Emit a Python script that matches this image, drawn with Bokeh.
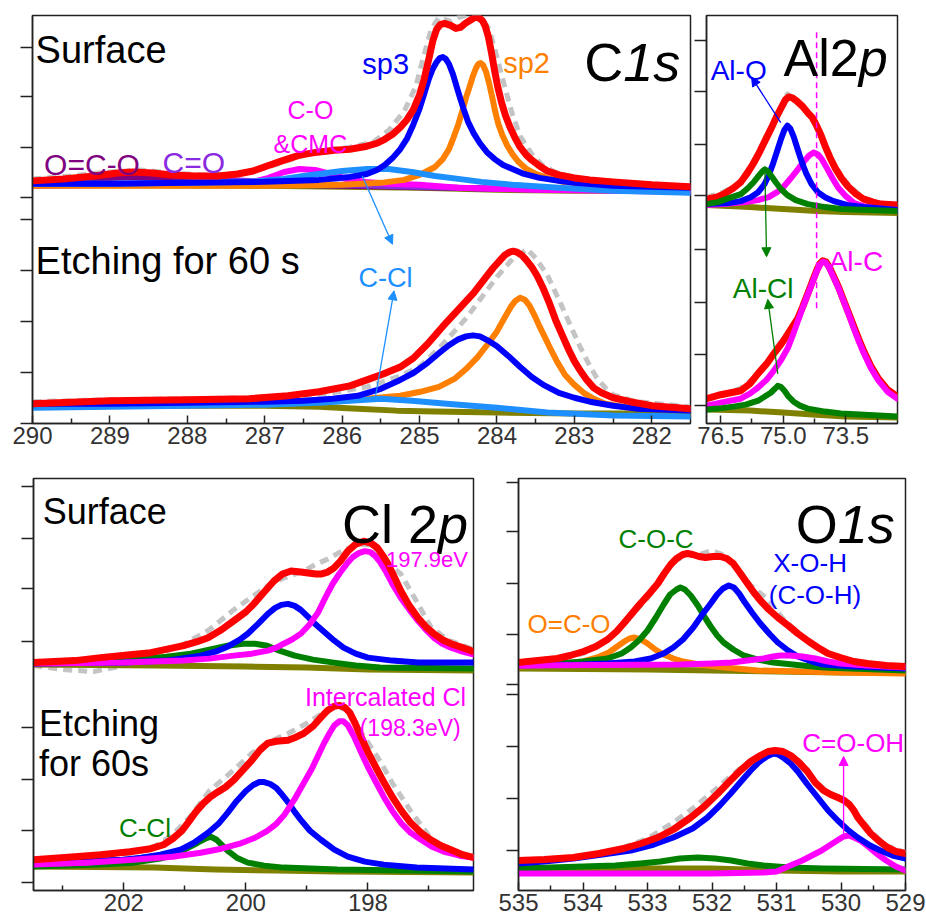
from bokeh.plotting import figure
from bokeh.models import Range1d, FixedTicker, PrintfTickFormatter, Label, Arrow, NormalHead
from bokeh.layouts import column, row
from bokeh.embed import file_html
from bokeh.resources import INLINE

# ---------------- data (binding energy in eV, intensity in a.u.) ----------------
# C 1s, surface
c1s_s_raw = [(290.0,247),(289.5,250),(289.0,254),(288.6,256),(288.2,253),(287.8,251),(287.4,252),(287.0,258),(286.6,268),(286.3,275),(285.9,279),(285.6,284),(285.4,296),(285.2,315),(285.05,340),(284.95,370),(284.85,398),(284.75,410),(284.6,406),(284.5,410),(284.4,412),(284.3,413),(284.2,410),(284.1,398),(284.0,370),(283.9,340),(283.8,312),(283.7,290),(283.55,272),(283.4,260),(283.2,252),(282.9,247),(282.5,243),(282.0,240),(281.51,238)]
c1s_s_fit = [(290.0,245),(289.6,247),(289.2,250),(288.9,253),(288.7,254),(288.45,253),(288.2,251),(287.9,250),(287.6,250),(287.35,252),(287.15,255),(286.97,260),(286.75,266),(286.55,271),(286.32,274),(286.1,276),(285.9,277),(285.68,280),(285.55,283),(285.45,287),(285.35,292),(285.25,299),(285.16,307),(285.08,317),(285.0,332),(284.94,348),(284.88,368),(284.83,386),(284.78,398),(284.73,403),(284.67,404),(284.6,402),(284.53,399),(284.47,400),(284.41,404),(284.35,407),(284.29,410),(284.24,410),(284.19,407),(284.15,401),(284.11,390),(284.07,374),(284.03,356),(283.99,340),(283.94,324),(283.89,311),(283.83,299),(283.77,289),(283.7,279),(283.62,271),(283.55,266),(283.45,260),(283.35,255),(283.2,251),(283.0,248),(282.8,246),(282.5,244),(282.0,241),(281.51,239)]
c1s_s_sp3 = [(290.0,242),(289.0,242),(288.0,243),(287.0,244),(286.3,246),(285.9,249),(285.68,252),(285.55,256),(285.45,261),(285.35,268),(285.25,277),(285.16,288),(285.08,302),(285.0,318),(284.94,333),(284.88,348),(284.83,358),(284.78,365),(284.74,369),(284.7,370),(284.66,368),(284.62,363),(284.57,353),(284.52,340),(284.47,327),(284.42,315),(284.37,304),(284.3,293),(284.22,283),(284.13,274),(284.03,267),(283.92,261),(283.8,257),(283.65,252),(283.45,248),(283.2,245),(283.0,243),(282.5,240),(281.51,238)]
c1s_s_sp2 = [(290.0,240),(289.0,240),(288.0,240),(287.0,240),(286.0,241),(285.5,243),(285.2,246),(285.0,251),(284.9,255),(284.8,259),(284.7,267),(284.62,277),(284.56,289),(284.5,302),(284.45,315),(284.4,329),(284.35,341),(284.31,351),(284.27,359),(284.24,363),(284.21,364),(284.18,362),(284.14,355),(284.1,343),(284.06,329),(284.02,314),(283.98,302),(283.93,291),(283.87,281),(283.8,272),(283.72,264),(283.62,257),(283.5,252),(283.35,248),(283.15,244),(282.9,242),(282.5,240),(281.51,238)]
c1s_s_ccl = [(290.0,242),(289.0,242),(288.0,243),(287.2,244),(286.76,247),(286.5,250),(286.3,252),(286.0,255),(285.68,257),(285.4,257),(285.1,254),(284.8,250),(284.5,247),(284.2,244),(283.8,241),(283.2,238),(282.5,235),(281.51,233)]
c1s_s_co = [(290.0,241),(288.0,241),(287.4,242),(287.15,244),(286.95,248),(286.75,254),(286.55,257),(286.35,256),(286.15,252),(285.95,247),(285.7,244),(285.4,242),(285.0,241),(284.5,238),(283.5,236),(282.5,235),(281.51,234)]
c1s_s_c_o = [(290.0,240),(288.5,241),(288.1,242),(287.8,245),(287.5,246),(287.2,245),(286.9,243),(286.5,242),(285.5,240),(284.0,237),(281.51,235)]
c1s_s_oco = [(290.0,242),(289.6,244),(289.3,247),(289.0,248),(288.7,249),(288.4,248),(288.1,246),(287.8,244),(287.4,242),(286.0,240),(284.0,237),(281.51,235)]
c1s_s_bg = [(290.0,241),(287.0,240),(286.0,239),(285.0,238),(284.0,236),(283.0,235),(281.51,235)]
# C 1s, etching 60 s
c1s_e_raw = [(290.0,22),(289.0,24),(288.0,25),(287.0,26),(286.5,28),(286.12,31),(285.68,37),(285.25,48),(284.99,58),(284.7,80),(284.39,107),(284.22,125),(284.0,148),(283.8,166),(283.61,176),(283.5,167),(283.35,150),(283.2,125),(283.08,104),(282.93,78),(282.8,58),(282.71,46),(282.6,36),(282.5,29),(282.2,22),(281.51,17)]
c1s_e_fit = [(290.0,20),(289.0,23),(288.0,24),(287.2,25),(286.7,28),(286.3,32),(285.9,38),(285.68,44),(285.47,50),(285.25,57),(285.08,66),(284.9,80),(284.7,98),(284.5,115),(284.3,132),(284.15,147),(284.05,157),(283.97,164),(283.9,170),(283.84,173),(283.79,174),(283.74,173),(283.68,170),(283.62,165),(283.55,158),(283.48,149),(283.4,136),(283.32,121),(283.24,104),(283.15,88),(283.07,74),(283.0,63),(282.93,54),(282.84,44),(282.75,36),(282.65,31),(282.5,26),(282.28,22),(282.0,18),(281.51,15)]
c1s_e_sp3 = [(290.0,20),(289.0,20),(288.0,21),(287.0,22),(286.5,23),(286.12,25),(285.8,28),(285.5,35),(285.25,44),(285.08,51),(284.9,61),(284.75,71),(284.62,79),(284.5,85),(284.4,88),(284.31,89),(284.22,88),(284.12,84),(284.0,78),(283.85,68),(283.7,57),(283.55,47),(283.4,39),(283.2,31),(283.0,26),(282.8,22),(282.5,18),(282.2,15),(281.51,13)]
c1s_e_sp2 = [(290.0,20),(288.0,20),(287.0,21),(286.3,22),(285.68,25),(285.25,28),(284.99,32),(284.75,37),(284.55,45),(284.4,55),(284.25,67),(284.12,80),(284.0,93),(283.9,107),(283.82,118),(283.76,124),(283.7,127),(283.64,125),(283.58,119),(283.52,110),(283.45,98),(283.38,87),(283.3,74),(283.22,62),(283.12,49),(283.0,39),(282.88,31),(282.75,25),(282.6,20),(282.3,16),(281.51,14)]
c1s_e_ccl = [(290.0,16),(289.0,17),(288.0,18),(287.0,19),(286.3,21),(285.9,23),(285.5,25),(285.1,23),(284.65,20),(284.0,16),(283.35,11),(282.5,8),(281.51,7)]
c1s_e_bg = [(290.0,18),(287.0,18),(286.3,17),(285.8,15),(285.3,13),(284.8,12),(284.0,11),(283.0,10),(281.51,10)]

# Al 2p, surface
al_s_raw = [(76.84,228),(76.5,232),(76.1,240),(75.9,252),(75.61,272),(75.35,292),(75.1,314),(74.9,332),(74.7,326),(74.5,318),(74.25,305),(74.05,285),(73.8,262),(73.5,243),(73.1,228),(72.7,222),(72.26,220)]
al_s_fit = [(76.84,226),(76.6,228),(76.43,231),(76.2,237),(76.02,243),(75.85,253),(75.7,263),(75.55,275),(75.4,288),(75.28,298),(75.15,310),(75.05,318),(74.95,326),(74.87,329),(74.78,328),(74.68,325),(74.55,320),(74.41,313),(74.3,308),(74.2,300),(74.1,291),(74.0,280),(73.88,268),(73.75,257),(73.6,247),(73.45,239),(73.25,231),(73.07,226),(72.85,223),(72.66,221),(72.26,220)]
al_s_alo = [(76.84,221),(76.3,222),(76.02,224),(75.78,228),(75.6,233),(75.45,241),(75.35,250),(75.25,261),(75.15,274),(75.05,287),(74.97,296),(74.9,300),(74.83,297),(74.75,289),(74.66,277),(74.56,264),(74.45,252),(74.32,241),(74.17,233),(74.0,228),(73.79,224),(73.45,220),(73.07,218),(72.26,215)]
al_s_alcl = [(76.84,221),(76.57,223),(76.3,227),(76.02,231),(75.85,237),(75.71,243),(75.6,249),(75.5,254),(75.44,256),(75.37,254),(75.28,249),(75.18,243),(75.05,236),(74.9,230),(74.7,225),(74.41,221),(74.0,218),(73.62,216),(72.26,214)]
al_s_alc = [(76.84,220),(76.43,221),(75.9,223),(75.61,225),(75.35,228),(75.15,233),(74.98,239),(74.82,247),(74.65,256),(74.5,264),(74.38,270),(74.27,273),(74.17,271),(74.07,266),(73.95,257),(73.82,247),(73.69,238),(73.5,229),(73.3,222),(73.0,218),(72.6,216),(72.26,215)]
al_s_bg = [(76.84,220),(75.8,218),(75.0,216),(74.2,214),(73.5,213),(72.26,212)]
# Al 2p, etching
al_e_raw = [(76.84,24),(76.4,29),(76.0,36),(75.7,46),(75.45,58),(75.2,74),(75.0,86),(74.8,96),(74.6,110),(74.4,135),(74.22,155),(74.1,163),(74.0,164),(73.88,159),(73.72,143),(73.55,124),(73.35,102),(73.15,80),(72.9,58),(72.6,38),(72.26,27)]
al_e_fit = [(76.84,25),(76.5,29),(76.02,33),(75.8,40),(75.61,50),(75.4,60),(75.23,70),(75.05,80),(74.89,90),(74.77,98),(74.65,106),(74.53,118),(74.41,131),(74.3,143),(74.2,154),(74.12,161),(74.05,164),(73.98,163),(73.9,158),(73.79,148),(73.67,137),(73.55,124),(73.43,111),(73.31,98),(73.19,85),(73.07,73),(72.9,58),(72.73,46),(72.5,34),(72.26,27)]
al_e_alc = [(76.84,18),(76.5,21),(76.02,25),(75.8,30),(75.61,36),(75.4,44),(75.23,53),(75.05,64),(74.89,76),(74.77,89),(74.65,103),(74.53,117),(74.41,130),(74.3,142),(74.2,153),(74.12,160),(74.05,163),(73.98,162),(73.9,157),(73.79,147),(73.67,136),(73.55,123),(73.43,110),(73.31,96),(73.19,83),(73.07,71),(72.9,56),(72.73,44),(72.5,32),(72.26,25)]
al_e_alcl = [(76.84,14),(76.57,15),(76.2,17),(75.9,19),(75.6,23),(75.45,27),(75.3,31),(75.2,35),(75.13,38),(75.06,37),(74.97,33),(74.87,27),(74.75,22),(74.6,18),(74.41,15),(74.0,12),(73.62,10),(72.26,7)]
al_e_bg = [(76.84,14),(75.8,13),(75.0,11),(74.3,9),(73.5,7),(72.26,6)]
al_alc_mark = [74.2]          # Al-C position (dashed guide)
al_alc_mark_span = [116, 396]

# Cl 2p, surface
cl_s_raw = [(203.48,226),(203.0,222),(202.5,220),(202.0,226),(201.5,236),(201.0,248),(200.6,262),(200.2,282),(199.9,295),(199.6,308),(199.38,314),(199.05,321),(198.85,328),(198.66,333),(198.4,342),(198.15,348),(197.95,347),(197.8,338),(197.6,325),(197.46,318),(197.18,288),(196.97,265),(196.7,252),(196.26,242)]
cl_s_fit = [(203.48,229),(202.8,231),(202.38,234),(201.9,237),(201.56,239),(201.25,243),(201.02,246),(200.8,250),(200.62,254),(200.4,262),(200.2,271),(200.0,280),(199.87,288),(199.7,300),(199.54,311),(199.4,318),(199.26,321),(199.1,320),(198.98,319),(198.85,318),(198.77,318),(198.66,320),(198.56,324),(198.45,331),(198.33,341),(198.2,348),(198.07,351),(197.95,349),(197.84,344),(197.75,336),(197.67,328),(197.56,314),(197.46,301),(197.32,286),(197.18,274),(197.05,265),(196.92,258),(196.78,252),(196.64,248),(196.45,244),(196.26,240)]
cl_s_inter = [(203.48,228),(202.0,229),(201.02,231),(200.6,233),(200.2,236),(199.9,238),(199.64,241),(199.5,244),(199.38,248),(199.25,252),(199.1,258),(198.96,267),(198.82,279),(198.7,294),(198.58,308),(198.46,319),(198.35,328),(198.25,335),(198.15,339),(198.05,341),(197.96,340),(197.88,336),(197.8,330),(197.7,320),(197.6,308),(197.46,294),(197.32,282),(197.18,271),(197.05,262),(196.92,254),(196.78,248),(196.64,244),(196.45,240),(196.26,237)]
cl_s_blue = [(203.48,228),(202.0,229),(201.3,231),(201.07,233),(200.74,236),(200.5,240),(200.3,245),(200.1,252),(199.97,258),(199.8,268),(199.64,278),(199.52,284),(199.42,287),(199.31,288),(199.2,286),(199.1,282),(198.98,275),(198.85,267),(198.7,259),(198.55,251),(198.4,244),(198.2,238),(198.0,234),(197.6,231),(197.18,229),(196.26,229)]
cl_s_ccl = [(203.48,228),(202.5,230),(201.8,232),(201.3,235),(200.9,238),(200.6,242),(200.3,246),(200.05,248),(199.85,248),(199.65,246),(199.45,241),(199.2,236),(198.9,232),(198.56,229),(198.2,226),(197.8,224),(196.26,223)]
cl_s_bg = [(203.48,227),(201.5,226),(200.0,225),(199.0,224),(198.0,222),(196.26,221)]
# Cl 2p, etching
cl_e_raw = [(203.48,28),(203.0,24),(202.5,26),(202.0,35),(201.5,44),(201.2,56),(200.9,75),(200.6,100),(200.2,121),(199.9,138),(199.6,150),(199.3,158),(199.0,168),(198.75,178),(198.5,185),(198.3,180),(198.1,158),(197.8,130),(197.6,108),(197.3,80),(197.0,55),(196.75,38),(196.5,36),(196.26,34)]
cl_e_fit = [(203.48,31),(202.8,34),(202.38,36),(201.9,39),(201.56,42),(201.35,46),(201.2,52),(201.05,60),(200.95,68),(200.82,79),(200.69,88),(200.58,94),(200.46,99),(200.33,104),(200.2,111),(200.05,121),(199.9,131),(199.77,141),(199.64,148),(199.5,150),(199.31,151),(199.18,154),(199.05,158),(198.9,165),(198.77,174),(198.66,181),(198.56,185),(198.46,186),(198.38,184),(198.3,179),(198.21,168),(198.11,154),(198.0,139),(197.88,125),(197.75,110),(197.6,94),(197.45,80),(197.3,68),(197.13,58),(196.97,51),(196.8,45),(196.64,41),(196.45,36),(196.26,33)]
cl_e_inter = [(203.48,26),(202.6,28),(201.84,31),(201.2,34),(200.74,38),(200.4,42),(200.1,47),(199.85,53),(199.65,60),(199.5,67),(199.37,76),(199.21,91),(199.07,106),(198.93,121),(198.82,135),(198.72,148),(198.63,158),(198.55,166),(198.47,170),(198.4,170),(198.33,166),(198.23,155),(198.12,140),(198.0,124),(197.87,109),(197.74,94),(197.6,80),(197.46,68),(197.3,58),(197.13,51),(196.95,44),(196.75,39),(196.5,35),(196.26,33)]
cl_e_blue = [(203.48,28),(202.5,30),(202.0,31),(201.72,33),(201.4,36),(201.07,41),(200.85,48),(200.62,58),(200.45,67),(200.3,78),(200.15,90),(200.0,100),(199.88,106),(199.78,109),(199.7,109),(199.6,107),(199.5,103),(199.43,98),(199.3,88),(199.2,79),(199.1,71),(198.95,60),(198.77,51),(198.55,41),(198.33,34),(198.05,29),(197.74,26),(197.2,23),(196.26,21)]
cl_e_ccl = [(203.48,24),(202.4,26),(201.84,28),(201.4,32),(201.18,36),(200.98,42),(200.79,48),(200.67,52),(200.57,54),(200.48,51),(200.4,46),(200.3,40),(200.15,33),(199.97,28),(199.7,25),(199.38,23),(198.5,21),(196.26,19)]
cl_e_bg = [(203.48,24),(201.5,23),(200.5,21),(199.5,20),(198.5,19),(196.26,18)]

# O 1s, surface
o_s_raw = [(535.0,227),(534.5,230),(534.0,237),(533.6,251),(533.3,272),(533.0,292),(532.8,312),(532.6,328),(532.4,336),(532.2,336),(532.0,340),(531.8,335),(531.6,322),(531.4,305),(531.15,292),(530.9,272),(530.6,254),(530.3,240),(530.0,232),(529.5,226),(529.0,224)]
o_s_fit = [(535.0,228),(534.7,230),(534.4,232),(534.2,235),(533.99,239),(533.8,244),(533.62,251),(533.48,259),(533.37,267),(533.24,277),(533.11,287),(532.97,297),(532.84,307),(532.74,317),(532.64,326),(532.55,332),(532.45,336),(532.38,337),(532.3,336),(532.2,334),(532.1,333),(531.98,334),(531.87,334),(531.77,332),(531.67,327),(531.57,318),(531.45,307),(531.35,298),(531.25,290),(531.12,281),(530.98,273),(530.82,265),(530.67,257),(530.5,249),(530.36,243),(530.2,237),(530.01,233),(529.8,229),(529.59,227),(529.3,225),(529.0,224)]
o_s_oco = [(535.0,224),(534.4,226),(534.0,229),(533.78,233),(533.6,238),(533.47,244),(533.36,249),(533.28,252),(533.2,253),(533.1,251),(533.0,247),(532.88,241),(532.75,236),(532.6,232),(532.45,229),(532.2,226),(531.8,223),(531.29,220),(530.0,218),(529.0,217)]
o_s_coc = [(535.0,226),(534.4,227),(534.0,229),(533.62,232),(533.4,237),(533.26,243),(533.12,251),(533.0,260),(532.87,273),(532.75,286),(532.65,296),(532.55,301),(532.49,303),(532.42,301),(532.33,295),(532.22,285),(532.12,274),(532.02,264),(531.92,255),(531.82,248),(531.67,241),(531.51,235),(531.3,231),(531.05,228),(530.6,225),(530.27,223),(529.0,220)]
o_s_xoh = [(535.0,225),(534.0,226),(533.62,227),(533.2,229),(532.95,232),(532.75,237),(532.6,243),(532.45,251),(532.29,263),(532.15,276),(532.02,287),(531.92,296),(531.83,302),(531.74,305),(531.66,303),(531.58,297),(531.5,289),(531.38,278),(531.25,267),(531.1,256),(530.98,248),(530.82,240),(530.67,234),(530.45,229),(530.27,226),(529.8,224),(529.0,222)]
o_s_cooh = [(535.0,225),(532.5,226),(532.0,227),(531.7,228),(531.45,230),(531.2,232),(531.05,234),(530.94,235),(530.8,235),(530.6,234),(530.4,232),(530.2,229),(530.01,227),(529.6,225),(529.0,223)]
o_s_bg = [(535.0,222),(533.0,221),(532.0,220),(531.0,219),(530.0,218),(529.0,218)]
# O 1s, etching
o_e_raw = [(535.0,30),(534.2,33),(533.5,40),(533.0,52),(532.6,68),(532.3,82),(532.0,98),(531.7,115),(531.4,130),(531.1,141),(530.9,138),(530.7,127),(530.45,112),(530.2,98),(530.0,92),(529.8,80),(529.55,60),(529.3,45),(529.0,38)]
o_e_fit = [(535.0,30),(534.6,31),(534.15,33),(533.75,37),(533.37,42),(533.1,47),(532.84,53),(532.6,61),(532.33,73),(532.12,84),(531.91,97),(531.73,109),(531.56,120),(531.4,129),(531.25,135),(531.13,139),(531.02,140),(530.9,139),(530.78,135),(530.65,128),(530.52,119),(530.4,108),(530.27,100),(530.16,96),(530.05,93),(529.95,90),(529.87,86),(529.8,80),(529.74,73),(529.64,65),(529.54,57),(529.42,50),(529.28,43),(529.15,39),(529.0,37)]
o_e_xoh = [(535.0,27),(534.6,29),(534.15,32),(533.7,36),(533.26,40),(532.9,46),(532.6,53),(532.3,62),(532.07,73),(531.88,85),(531.71,97),(531.55,109),(531.4,120),(531.26,129),(531.15,134),(531.05,137),(530.97,136),(530.9,133),(530.78,127),(530.67,119),(530.52,106),(530.36,93),(530.2,80),(530.05,70),(529.9,61),(529.74,53),(529.55,45),(529.39,40),(529.2,35),(529.0,32)]
o_e_coc = [(535.0,22),(534.5,23),(534.0,24),(533.5,25),(533.11,27),(532.8,29),(532.5,32),(532.22,33),(531.95,32),(531.7,30),(531.45,27),(531.2,25),(530.8,23),(530.27,22),(529.0,21)]
o_e_cooh = [(535.0,17),(532.0,17),(531.2,18),(531.0,19),(530.89,22),(530.75,26),(530.6,30),(530.45,35),(530.3,40),(530.18,45),(530.06,50),(529.96,54),(529.88,55),(529.8,53),(529.7,50),(529.58,44),(529.45,37),(529.3,30),(529.15,24),(529.0,20)]
o_e_bg = [(535.0,20),(533.0,22),(532.0,22),(531.0,20),(530.0,19),(529.0,19)]

# tick values
c1s_xticks, c1s_xminor = [290, 289, 288, 287, 286, 285, 284, 283, 282], [289.5, 288.5, 287.5, 286.5, 285.5, 284.5, 283.5, 282.5]
al_xticks, al_xminor = [76.5, 75.0, 73.5], [75.75, 74.25, 72.75]
cl_xticks, cl_xminor = [202, 200, 198], [203, 201, 199, 197]
o_xticks, o_xminor = [535, 534, 533, 532, 531, 530, 529], [534.5, 533.5, 532.5, 531.5, 530.5, 529.5]
c1s_yticks = [0, 52, 103, 154, 206, 228, 279, 330, 380]
al_yticks = [18, 70, 122, 175, 230, 281, 334, 386]
cl_yticks = [8, 60, 112, 164, 250, 303, 354, 406]
o_yticks = [40, 92, 144, 196, 206, 256, 307, 359, 408]

# ---------------- styling ----------------
FONT = "Liberation Sans"
RED, BLUE, ORANGE, MAG, GREEN = "#ff0000", "#0000ff", "#ff7f00", "#ff00ff", "#008000"
LBLUE, OLIVE, PURPLE, VIOLET, GREY = "#1e8fff", "#808000", "#800080", "#8a2be2", "#c4c4c4"
W_RED, W_COMP, W_RAW = 7, 6, 5


def panel(w, h, xr, yr, borders, xt, xm, yt, fmt):
    lb, rb, tb, bb = borders
    p = figure(width=w, height=h, x_range=Range1d(*xr), y_range=Range1d(*yr),
               output_backend="svg", toolbar_location=None,
               min_border_left=lb, min_border_right=rb, min_border_top=tb, min_border_bottom=bb)
    p.xgrid.visible = False
    p.ygrid.visible = False
    p.outline_line_color = "#222222"
    p.outline_line_width = 1.5
    p.outline_line_alpha = 1.0
    xa = p.xaxis[0]
    xa.ticker = FixedTicker(ticks=xt, minor_ticks=xm)
    xa.formatter = PrintfTickFormatter(format=fmt)
    xa.major_tick_in, xa.major_tick_out = 8, 0
    xa.minor_tick_in, xa.minor_tick_out = 5, 0
    xa.major_label_text_font = FONT
    xa.major_label_text_font_size = "24px"
    xa.major_label_text_color = "#333333"
    xa.major_label_standoff = 3
    xa.axis_line_width = 1.5
    xa.axis_line_color = "#222222"
    xa.major_tick_line_color = "#222222"
    xa.minor_tick_line_color = "#222222"
    xa.major_tick_line_width = 1.5
    xa.minor_tick_line_width = 1.5
    ya = p.yaxis[0]
    ya.ticker = FixedTicker(ticks=yt, minor_ticks=[])
    ya.major_tick_in, ya.major_tick_out = 0, 12
    ya.minor_tick_in, ya.minor_tick_out = 0, 0
    ya.major_label_text_font_size = "1px"
    ya.major_label_text_color = None
    ya.major_label_standoff = 0
    ya.axis_line_width = 1.5
    ya.axis_line_color = "#222222"
    ya.major_tick_line_color = "#222222"
    ya.major_tick_line_width = 1.5
    return p


def curve(p, pts, color, width=W_COMP, dash=None):
    xs = [a for a, b in pts]
    ys = [b for a, b in pts]
    kw = dict(line_color=color, line_width=width, line_join="round", line_cap="round")
    if dash:
        kw["line_dash"] = dash
        kw["line_cap"] = "butt"
    p.line(xs, ys, **kw)


def label(p, x, y, text, size, color="black", align="left", style="normal"):
    p.add_layout(Label(x=x, y=y, text=text, text_font=FONT, text_font_size=size,
                       text_color=color, text_align=align, text_baseline="alphabetic",
                       text_font_style=style))


def arrow(p, x0, y0, x1, y1, color):
    p.add_layout(Arrow(end=NormalHead(size=9, fill_color=color, line_color=color),
                       x_start=x0, y_start=y0, x_end=x1, y_end=y1,
                       line_color=color, line_width=1.3))


# ---------------- C 1s ----------------
p1 = panel(692, 465, (290.0, 281.5), (0, 412), (32, 2, 15, 38), c1s_xticks, c1s_xminor, c1s_yticks, "%d")
for data in (c1s_s_raw, c1s_e_raw):
    curve(p1, data, GREY, W_RAW, "9 6")
for data, col in [(c1s_s_bg, OLIVE), (c1s_s_oco, PURPLE), (c1s_s_c_o, VIOLET), (c1s_s_co, MAG),
                  (c1s_s_sp2, ORANGE), (c1s_s_ccl, LBLUE), (c1s_s_sp3, BLUE),
                  (c1s_e_bg, OLIVE), (c1s_e_sp2, ORANGE), (c1s_e_ccl, LBLUE), (c1s_e_sp3, BLUE)]:
    curve(p1, data, col)
curve(p1, c1s_s_fit, RED, W_RED)
curve(p1, c1s_e_fit, RED, W_RED)
label(p1, 289.96, 377, "Surface", "38px")
label(p1, 289.96, 164, "Etching for 60 s", "38px")
label(p1, 282.37, 365, "C", "54px", align="right")
label(p1, 282.37, 365, "1s", "54px", style="italic")
label(p1, 285.74, 363, "sp3", "29px", BLUE)
label(p1, 283.92, 364, "sp2", "29px", ORANGE)
label(p1, 286.41, 317, "C-O", "25px", MAG, align="center")
label(p1, 286.41, 282, "&CMC", "25px", MAG, align="center")
label(p1, 289.85, 262, "O=C-O", "30px", PURPLE)
label(p1, 288.32, 264, "C=O", "30px", VIOLET)
label(p1, 285.79, 147, "C-Cl", "27px", LBLUE)
arrow(p1, 285.74, 250, 285.35, 181, LBLUE)
arrow(p1, 285.57, 27, 285.33, 134, LBLUE)

# ---------------- Al 2p ----------------
p2 = panel(234, 465, (76.84, 72.26), (0, 411), (14, 29, 12, 42), al_xticks, al_xminor, al_yticks, "%.1f")
curve(p2, al_s_raw, GREY, W_RAW, "9 6")
curve(p2, al_e_raw, GREY, W_RAW, "9 6")
curve(p2, al_s_bg, OLIVE)
curve(p2, al_e_bg, OLIVE)
curve(p2, al_s_fit, RED, W_RED)
curve(p2, al_e_fit, RED, W_RED)
for data, col in [(al_s_alc, MAG), (al_s_alo, BLUE), (al_s_alcl, GREEN),
                  (al_e_alc, MAG), (al_e_alcl, GREEN)]:
    curve(p2, data, col)
p2.segment(x0=al_alc_mark, y0=[al_alc_mark_span[0]], x1=al_alc_mark, y1=[al_alc_mark_span[1]],
           line_color=MAG, line_width=1.5, line_dash="6 4")
label(p2, 73.19, 368, "Al2", "52px", align="right")
label(p2, 73.19, 368, "p", "52px", style="italic")
label(p2, 76.74, 356, "Al-O", "28px", BLUE)
arrow(p2, 75.06, 303, 75.76, 349, BLUE)
label(p2, 76.21, 136, "Al-Cl", "28px", GREEN)
arrow(p2, 75.44, 256, 75.40, 168, GREEN)
arrow(p2, 75.13, 50, 75.37, 125, GREEN)
label(p2, 73.91, 163, "Al-C", "28px", MAG)

# ---------------- Cl 2p ----------------
p3 = panel(490, 459, (203.48, 196.27), (0, 414), (33, 17, 12, 33), cl_xticks, cl_xminor, cl_yticks, "%d")
curve(p3, cl_s_raw, GREY, W_RAW, "9 6")
curve(p3, cl_e_raw, GREY, W_RAW, "9 6")
for data, col in [(cl_s_bg, OLIVE), (cl_s_ccl, GREEN), (cl_s_blue, BLUE), (cl_s_inter, MAG),
                  (cl_e_bg, OLIVE), (cl_e_ccl, GREEN), (cl_e_blue, BLUE), (cl_e_inter, MAG)]:
    curve(p3, data, col)
curve(p3, cl_s_fit, RED, W_RED)
curve(p3, cl_e_fit, RED, W_RED)
label(p3, 203.33, 381, "Surface", "36px")
label(p3, 196.85, 368, "Cl 2", "54px", align="right")
label(p3, 196.85, 368, "p", "54px", style="italic")
label(p3, 196.36, 333, "197.9eV", "22px", MAG, align="right")
label(p3, 196.39, 194, "Intercalated Cl", "25px", MAG, align="right")
label(p3, 196.48, 163, "(198.3eV)", "23px", MAG, align="right")
label(p3, 203.39, 168, "Etching", "36px")
label(p3, 203.39, 128, "for 60s", "36px")
label(p3, 202.08, 63, "C-Cl", "26px", GREEN)

# ---------------- O 1s ----------------
p4 = panel(436, 459, (535.0, 529.0), (0, 412), (28, 21, 13, 34), o_xticks, o_xminor, o_yticks, "%d")
curve(p4, o_s_raw, GREY, W_RAW, "9 6")
curve(p4, o_e_raw, GREY, W_RAW, "9 6")
for data, col in [(o_s_bg, OLIVE), (o_s_oco, ORANGE), (o_s_coc, GREEN), (o_s_xoh, BLUE),
                  (o_e_bg, OLIVE), (o_e_coc, GREEN), (o_e_cooh, MAG), (o_e_xoh, BLUE)]:
    curve(p4, data, col)
curve(p4, o_s_cooh, MAG)
curve(p4, o_s_fit, RED, W_RED)
curve(p4, o_e_fit, RED, W_RED)
label(p4, 530.05, 367, "O", "54px", align="right")
label(p4, 530.05, 367, "1s", "54px", style="italic")
label(p4, 533.45, 352, "C-O-C", "26px", GREEN)
label(p4, 531.05, 328, "X-O-H", "26px", BLUE)
label(p4, 531.12, 296, "(C-O-H)", "26px", BLUE)
label(p4, 534.86, 267, "O=C-O", "26px", ORANGE)
label(p4, 530.60, 148, "C=O-OH", "26px", MAG)
arrow(p4, 529.96, 57, 529.96, 134, MAG)

layout = column(row(p1, p2), row(p3, p4))
open("out.html", "w").write(file_html(layout, INLINE))
